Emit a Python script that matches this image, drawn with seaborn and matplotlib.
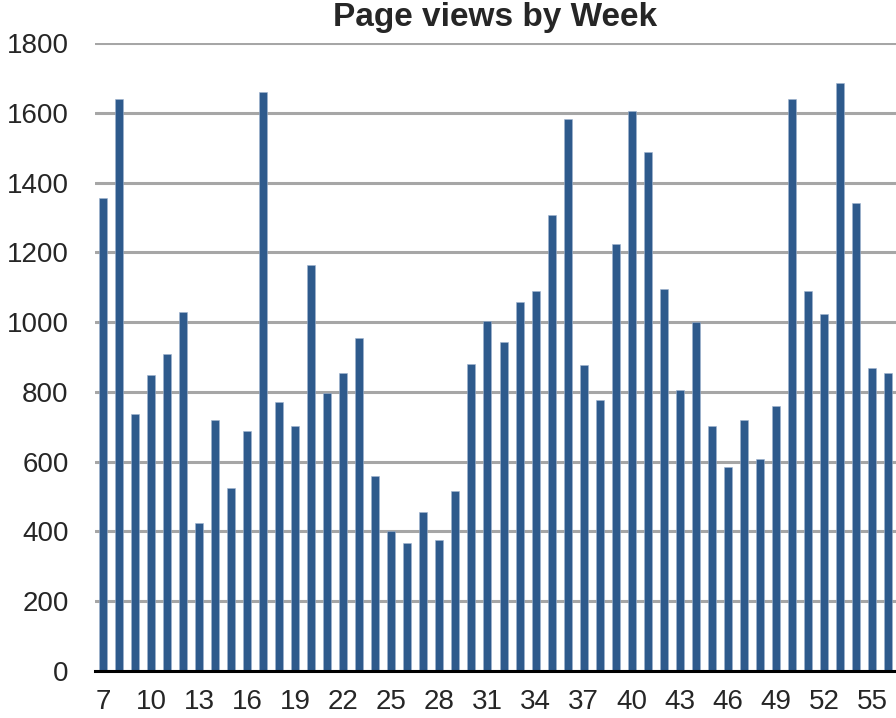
import matplotlib
matplotlib.use("Agg")
import matplotlib.pyplot as plt
import seaborn as sns
import pandas as pd

# semanas y visitas
semanas = list(range(7, 57))
visitas = [1355, 1640, 737, 847, 910, 1028, 423, 718, 524, 687,
           1660, 770, 703, 1165, 796, 853, 955, 560, 401, 368,
           457, 375, 515, 880, 1003, 943, 1058, 1090, 1308, 1582,
           877, 776, 1224, 1605, 1487, 1096, 806, 1000, 703, 586,
           720, 608, 760, 1640, 1090, 1023, 1685, 1340, 868, 853]
y_ticks = [0, 200, 400, 600, 800, 1000, 1200, 1400, 1600, 1800]

df = pd.DataFrame({'semana': [str(s) for s in semanas], 'visitas': visitas})

sns.set_style("white")
plt.rcParams['font.family'] = ['Liberation Sans', 'DejaVu Sans']

fig = plt.figure(figsize=(8.96, 7.18), dpi=100)
ax = fig.add_axes([95 / 896, 1 - 671 / 718, 1 - 95 / 896, (671 - 43) / 718])

sns.barplot(data=df, x='semana', y='visitas', order=df['semana'],
            color='#2E5A8C', saturation=1, width=0.5, ax=ax, zorder=3,
            edgecolor='#9fb4cf', linewidth=0.4)

ax.set_xlim(-0.5, len(semanas) - 0.5)
ax.set_ylim(0, 1800)
ax.set_yticks(y_ticks)
ax.set_yticklabels([str(v) for v in y_ticks])
posiciones = list(range(0, len(semanas), 3))
ax.set_xticks(posiciones)
ax.set_xticklabels([df['semana'][i] for i in posiciones])

ax.grid(axis='y', color='#a6a6a6', linewidth=2.2, zorder=0)
ax.grid(axis='x', visible=False)
for lado in ['left', 'right', 'top']:
    ax.spines[lado].set_visible(False)
ax.spines['bottom'].set_color('black')
ax.spines['bottom'].set_linewidth(2.2)
ax.spines['bottom'].set_zorder(4)

ax.tick_params(axis='y', length=0, pad=19, labelsize=20)
ax.tick_params(axis='x', length=0, pad=13, labelsize=20)
ax.set_xlabel('')
ax.set_ylabel('')
ax.set_title('Page views by Week', fontsize=24, fontweight='bold', pad=12)

fig.savefig('out.png', dpi=100)
